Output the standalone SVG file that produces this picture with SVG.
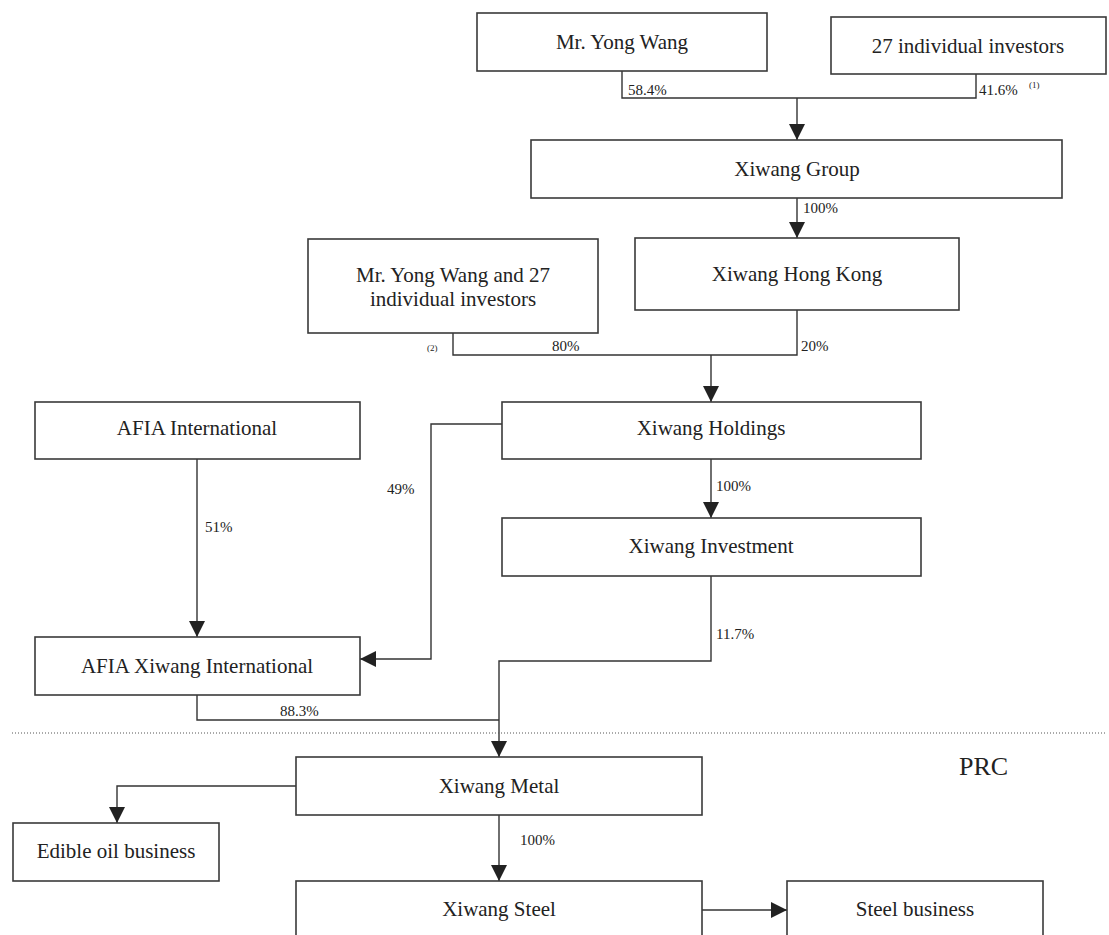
<svg xmlns="http://www.w3.org/2000/svg" width="1109" height="935" viewBox="0 0 1109 935">
<style>
.box{fill:#fff;stroke:#3a3a3a;stroke-width:1.6}
.t{font-family:"Liberation Serif","Times New Roman",serif;font-size:21px;fill:#222;text-anchor:middle}
.l{font-family:"Liberation Serif","Times New Roman",serif;font-size:15px;fill:#222}
.s{font-family:"Liberation Serif","Times New Roman",serif;font-size:9px;fill:#222}
.c{fill:none;stroke:#333;stroke-width:1.4}
</style>
<defs>
<marker id="ah" markerUnits="userSpaceOnUse" markerWidth="16" markerHeight="16" refX="16" refY="8" orient="auto" viewBox="0 0 16 16">
<path d="M0,0 L16,8 L0,16 z" fill="#222"/>
</marker>
</defs>
<rect width="1109" height="935" fill="#fff"/>
<g id="connectors">
<path class="c" d="M622,71 V98 H976 V74"/>
<path class="c" d="M797,98 V140" marker-end="url(#ah)"/>
<path class="c" d="M797,198 V238" marker-end="url(#ah)"/>
<path class="c" d="M453,333 V355 H797 V310"/>
<path class="c" d="M711,355 V402" marker-end="url(#ah)"/>
<path class="c" d="M502,424 H431 V659 H360" marker-end="url(#ah)"/>
<path class="c" d="M197,459 V637" marker-end="url(#ah)"/>
<path class="c" d="M711,459 V518" marker-end="url(#ah)"/>
<path class="c" d="M711,576 V661 H499 V757" marker-end="url(#ah)"/>
<path class="c" d="M197,695 V720 H499"/>
<path class="c" d="M296,786 H117 V823" marker-end="url(#ah)"/>
<path class="c" d="M499,815 V881" marker-end="url(#ah)"/>
<path class="c" d="M702,910 H787" marker-end="url(#ah)"/>
<text class="l" x="628" y="95">58.4%</text>
<text class="l" x="979" y="95">41.6%</text>
<text class="s" x="1029" y="88">(1)</text>
<text class="l" x="803" y="213">100%</text>
<text class="s" x="427" y="351">(2)</text>
<text class="l" x="552" y="351">80%</text>
<text class="l" x="801" y="351">20%</text>
<text class="l" x="387" y="494">49%</text>
<text class="l" x="205" y="532">51%</text>
<text class="l" x="716" y="491">100%</text>
<text class="l" x="716" y="639">11.7%</text>
<text class="l" x="280" y="716">88.3%</text>
<text class="l" x="520" y="845">100%</text>
</g>
<path d="M12,733 H1106" stroke="#555" stroke-width="1" stroke-dasharray="1 2" fill="none"/>
<text x="959" y="775" font-family="Liberation Serif, Times New Roman, serif" font-size="26" fill="#222">PRC</text>
<g id="mr-yong-wang"><rect class="box" x="477" y="13" width="290" height="58"/><text class="t" x="622" y="49">Mr. Yong Wang</text></g>
<g id="individual-investors"><rect class="box" x="831" y="17" width="275" height="57"/><text class="t" x="968" y="53">27 individual investors</text></g>
<g id="xiwang-group"><rect class="box" x="531" y="140" width="531" height="58"/><text class="t" x="797" y="176">Xiwang Group</text></g>
<g id="mr-yong-wang-and-27"><rect class="box" x="308" y="239" width="290" height="94"/><text class="t" x="453" y="282">Mr. Yong Wang and 27</text><text class="t" x="453" y="306">individual investors</text></g>
<g id="xiwang-hong-kong"><rect class="box" x="635" y="238" width="324" height="72"/><text class="t" x="797" y="281">Xiwang Hong Kong</text></g>
<g id="afia-international"><rect class="box" x="35" y="402" width="325" height="57"/><text class="t" x="197" y="435">AFIA International</text></g>
<g id="xiwang-holdings"><rect class="box" x="502" y="402" width="419" height="57"/><text class="t" x="711" y="435">Xiwang Holdings</text></g>
<g id="xiwang-investment"><rect class="box" x="502" y="518" width="419" height="58"/><text class="t" x="711" y="553">Xiwang Investment</text></g>
<g id="afia-xiwang-international"><rect class="box" x="35" y="637" width="325" height="58"/><text class="t" x="197" y="673">AFIA Xiwang International</text></g>
<g id="xiwang-metal"><rect class="box" x="296" y="757" width="406" height="58"/><text class="t" x="499" y="793">Xiwang Metal</text></g>
<g id="edible-oil-business"><rect class="box" x="13" y="823" width="206" height="58"/><text class="t" x="116" y="858">Edible oil business</text></g>
<g id="xiwang-steel"><rect class="box" x="296" y="881" width="406" height="64"/><text class="t" x="499" y="916">Xiwang Steel</text></g>
<g id="steel-business"><rect class="box" x="787" y="881" width="256" height="64"/><text class="t" x="915" y="916">Steel business</text></g>
</svg>
